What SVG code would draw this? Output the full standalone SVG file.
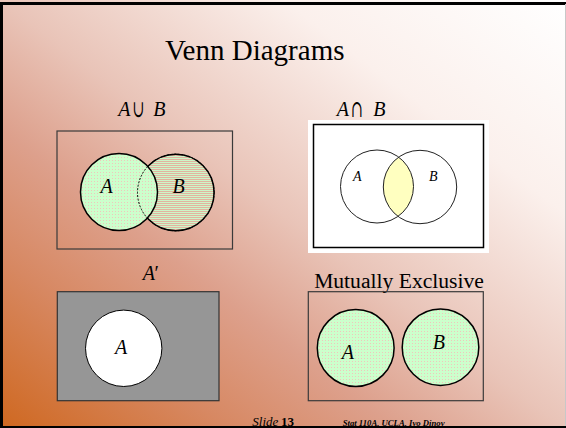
<svg xmlns="http://www.w3.org/2000/svg" width="566" height="428" viewBox="0 0 566 428">
<defs>
<linearGradient id="bg" x1="1" y1="0" x2="0" y2="1">
<stop offset="0" stop-color="#ffffff"/>
<stop offset="0.25" stop-color="#fbf0ec"/>
<stop offset="0.5" stop-color="#e9c4b8"/>
<stop offset="0.65" stop-color="#dda08c"/>
<stop offset="0.8" stop-color="#d78862"/>
<stop offset="1" stop-color="#cf6820"/>
</linearGradient>
<pattern id="dots" width="3" height="3" patternUnits="userSpaceOnUse">
<rect width="3" height="3" fill="#ccffcc"/>
<rect x="1" y="1" width="1" height="1" fill="#f0c6bc"/>
</pattern>
<pattern id="stripes" width="3" height="2" patternUnits="userSpaceOnUse">
<rect width="3" height="2" fill="#cdf5c8"/>
<rect x="0" y="1" width="3" height="1" fill="#e2b4a0"/>
</pattern>
<clipPath id="clipA"><circle cx="377" cy="186.5" r="36.5"/></clipPath>
</defs>
<style>
.box{fill:none;stroke:#3a3a3a;stroke-width:1.2}
.circ{stroke:#000;stroke-width:1.5}
.thin{fill:none;stroke:#222;stroke-width:1}
</style>
<rect x="0" y="0" width="566" height="428" fill="url(#bg)"/>

<g font-family="Liberation Serif" fill="#000">
<text font-family="Liberation Serif" font-size="29" x="254.7" y="60" text-anchor="middle">Venn Diagrams</text>

<g id="union">
<text font-family="Liberation Serif" font-style="italic" font-size="20" x="118.3" y="116">A</text>
<text font-family="DejaVu Serif" font-size="17" x="0" y="0" transform="translate(132.5,116.5) scale(0.85,1.4)">∪</text>
<text font-family="Liberation Serif" font-style="italic" font-size="20" x="153.3" y="116">B</text>
<rect class="box" x="57" y="131" width="175.5" height="118"/>
<circle cx="175.8" cy="192.5" r="38.3" fill="url(#stripes)" class="circ"/>
<circle cx="119" cy="192" r="38.5" fill="url(#dots)" class="circ"/>
<circle cx="175.8" cy="192.5" r="38.3" fill="none" stroke="#000" stroke-width="1" stroke-dasharray="2 1.5"/>
<text font-family="Liberation Serif" font-style="italic" font-size="20" x="100.5" y="193">A</text>
<text font-family="Liberation Serif" font-style="italic" font-size="20" x="172.5" y="193">B</text>
</g>

<g id="intersection">
<text font-family="Liberation Serif" font-style="italic" font-size="20" x="336.7" y="116">A</text>
<text font-family="DejaVu Serif" font-size="17" x="0" y="0" transform="translate(351,116.5) scale(0.85,1.4)">∩</text>
<text font-family="Liberation Serif" font-style="italic" font-size="20" x="373.3" y="116">B</text>
<rect x="308" y="120" width="181" height="133" fill="#ffffff"/>
<rect x="313.5" y="124.5" width="170" height="123" fill="none" stroke="#000" stroke-width="1.5"/>
<circle cx="420" cy="187" r="36.7" fill="#ffffc0" clip-path="url(#clipA)"/>
<circle cx="377" cy="186.5" r="36.5" class="thin"/>
<circle cx="420" cy="187" r="36.7" class="thin"/>
<text font-family="Liberation Serif" font-style="italic" font-size="14" x="353" y="181">A</text>
<text font-family="Liberation Serif" font-style="italic" font-size="14" x="429" y="181">B</text>
</g>

<g id="complement">
<text font-family="Liberation Serif" font-style="italic" font-size="20" x="142.7" y="280">A</text>
<text font-family="Liberation Serif" font-size="20" x="154.5" y="280">′</text>
<rect x="57.3" y="291.7" width="161.7" height="109" fill="#969696" stroke="#333" stroke-width="1.2"/>
<circle cx="123.7" cy="348.3" r="38.2" fill="#ffffff" stroke="#000" stroke-width="1"/>
<text font-family="Liberation Serif" font-style="italic" font-size="20" x="115" y="354">A</text>
</g>

<g id="mutually">
<text font-family="Liberation Serif" font-size="21.6" x="399" y="287.7" text-anchor="middle">Mutually Exclusive</text>
<rect class="box" x="308.3" y="291.7" width="175" height="109"/>
<circle cx="355.7" cy="348" r="38.4" fill="url(#dots)" class="circ"/>
<circle cx="440.5" cy="347.2" r="38.3" fill="url(#dots)" class="circ"/>
<text font-family="Liberation Serif" font-style="italic" font-size="20" x="341.7" y="359">A</text>
<text font-family="Liberation Serif" font-style="italic" font-size="20" x="432.7" y="349">B</text>
</g>

<g id="footer">
<text font-family="Liberation Serif" font-style="italic" font-size="13" x="252.3" y="425.5">Slide</text>
<text font-family="Liberation Serif" font-weight="bold" font-size="13" x="281" y="425.5">13</text>
<text font-family="Liberation Serif" font-style="italic" font-weight="bold" font-size="8.7" x="342.7" y="425.5">Stat 110A, UCLA, Ivo Dinov</text>
</g>
</g>

<path d="M 1.5 428 V 3.5 H 566" fill="none" stroke="#000" stroke-width="3"/>
<line x1="0" y1="427" x2="566" y2="427" stroke="#000" stroke-width="2"/>
<line x1="565.5" y1="4" x2="565.5" y2="426" stroke="#c8c8c8" stroke-width="1"/>
</svg>
